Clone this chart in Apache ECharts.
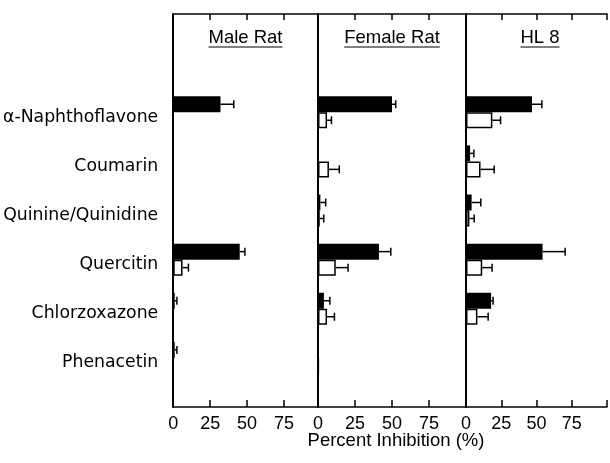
<!DOCTYPE html>
<html><head><meta charset="utf-8">
<script src="https://cdn.jsdelivr.net/npm/echarts@6/dist/echarts.min.js"></script>
<style>html,body{margin:0;padding:0;background:#fff}#c{width:610px;height:463px}</style>
</head><body><div id="c"></div>
<script>
const categories = ["α-Naphthoflavone","Coumarin","Quinine/Quinidine","Quercitin","Chlorzoxazone","Phenacetin"];
const panelTitles = ["Male Rat","Female Rat","HL 8"];
const xTicks = [0,25,50,75];
const xAxisTitle = "Percent Inhibition (%)";
// filled (black) and open (white) bars with their error values
const maleBlack      = [32, 0, 0, 45, 1, 1];
const maleBlackErr   = [9, 0, 0, 3.5, 1.5, 1.5];
const maleWhite      = [0, 0, 0, 6.3, 0, 0];
const maleWhiteErr   = [0, 0, 0, 4, 0, 0];
const femaleBlack    = [50, 0, 1.6, 41.2, 4, 0];
const femaleBlackErr = [2.5, 0, 3.6, 8, 4, 0];
const femaleWhite    = [6.1, 7.4, 1.2, 12, 6.1, 0.5];
const femaleWhiteErr = [3, 7, 2.7, 8.3, 5, 0];
const hl8Black       = [46.8, 2.9, 4, 54.3, 17.8, 0];
const hl8BlackErr    = [7, 2.7, 6.5, 16, 1.4, 0];
const hl8White       = [18.7, 10.3, 2.4, 11.5, 8.1, 0];
const hl8WhiteErr    = [5.8, 9.7, 3.4, 7, 7.6, 0];

const FONT = "'Liberation Sans', Arial, sans-serif";
const LFONT = "'DejaVu Sans', sans-serif";
const panels = [
  {black: maleBlack, blackErr: maleBlackErr, white: maleWhite, whiteErr: maleWhiteErr},
  {black: femaleBlack, blackErr: femaleBlackErr, white: femaleWhite, whiteErr: femaleWhiteErr},
  {black: hl8Black, blackErr: hl8BlackErr, white: hl8White, whiteErr: hl8WhiteErr}
];
const yCats = ["", " ", ...categories, "  "];
const gridDefs = [
  {left: 173, width: 145, max: 98},
  {left: 318, width: 148, max: 100},
  {left: 466, width: 148, max: 100}
];
const TOP = 14, HEIGHT = 393, BAR = 16;

const grid = [], xAxis = [], yAxis = [], series = [];
gridDefs.forEach((g, i) => {
  grid.push({left: g.left, top: TOP, width: g.width, height: HEIGHT, containLabel: false});
  xAxis.push({
    gridIndex: i, type: 'value', min: 0, max: g.max, interval: 25, position: 'bottom',
    axisLine: {show: true, onZero: false, lineStyle: {color: '#000', width: 1.5}},
    axisTick: {show: true, inside: true, length: 7, lineStyle: {color: '#000', width: 1.5}},
    axisLabel: {show: true, fontSize: 18, color: '#000', fontFamily: FONT, margin: 8,
      formatter: v => xTicks.includes(v) ? String(v) : ''},
    splitLine: {show: false}
  });
  xAxis.push({
    gridIndex: i, type: 'value', min: 0, max: g.max, interval: 25, position: 'top',
    axisLine: {show: true, onZero: false, lineStyle: {color: '#000', width: 1.5}},
    axisTick: {show: true, inside: true, length: 6, lineStyle: {color: '#000', width: 1.5}},
    axisLabel: {show: false}, splitLine: {show: false}
  });
  yAxis.push({
    gridIndex: i, type: 'category', data: yCats, inverse: true, boundaryGap: false,
    axisLine: {show: true, onZero: false, lineStyle: {color: '#000', width: 2}},
    axisTick: {show: false},
    axisLabel: {show: i === 0, fontSize: 17.3, color: '#000', fontFamily: LFONT, margin: 15,
      verticalAlign: 'top', lineHeight: 10, interval: 0},
    splitLine: {show: false}
  });
  const p = panels[i];
  const mk = arr => arr.map((v, k) => [v, categories[k]]);
  series.push({
    type: 'bar', xAxisIndex: 2 * i, yAxisIndex: i, data: mk(p.black), barWidth: BAR, barGap: '0%',
    itemStyle: {color: '#000', borderColor: '#000', borderWidth: 0}, silent: true, animation: false
  });
  series.push({
    type: 'bar', xAxisIndex: 2 * i, yAxisIndex: i, data: mk(p.white), barWidth: BAR, barGap: '0%',
    itemStyle: {color: '#fff', borderColor: '#000', borderWidth: 1.5}, silent: true, animation: false
  });
  const errData = [];
  categories.forEach((c, k) => {
    errData.push([p.black[k], c, p.blackErr[k], -1]);
    errData.push([p.white[k], c, p.whiteErr[k], 1]);
  });
  series.push({
    type: 'custom', xAxisIndex: 2 * i, yAxisIndex: i, data: errData, silent: true, animation: false,
    encode: {x: 0, y: 1}, z: 5,
    renderItem: (params, api) => {
      const v = api.value(0), cat = api.value(1), e = api.value(2), grp = api.value(3);
      if (!e) return null;
      const a = api.coord([v, cat]);
      const b = api.coord([v + e, cat]);
      const y = a[1] + grp * BAR / 2;
      const st = {stroke: '#000', lineWidth: 1.5};
      return {type: 'group', children: [
        {type: 'line', shape: {x1: a[0], y1: y, x2: b[0], y2: y}, style: st},
        {type: 'line', shape: {x1: b[0], y1: y - 4, x2: b[0], y2: y + 4}, style: st}
      ]};
    }
  });
});

// measure title widths for underline
const cv = document.createElement('canvas').getContext('2d');
cv.font = "18.5px 'Liberation Sans', Arial, sans-serif";
const graphic = [];
gridDefs.forEach((g, i) => {
  const cx = g.left + g.width / 2;
  const w = cv.measureText(panelTitles[i]).width;
  graphic.push({type: 'text', x: cx, y: 38, style: {text: panelTitles[i], font: "18.5px " + FONT,
    fill: '#000', textAlign: 'center', textVerticalAlign: 'middle'}});
  graphic.push({type: 'line', shape: {x1: cx - w / 2, y1: 47, x2: cx + w / 2, y2: 47},
    style: {stroke: '#000', lineWidth: 1.2}});
});
graphic.push({type: 'text', x: 396, y: 441, style: {text: xAxisTitle, font: "18.5px " + FONT,
  fill: '#000', textAlign: 'center', textVerticalAlign: 'middle'}});

const chart = echarts.init(document.getElementById('c'), null, {renderer: 'canvas'});
chart.setOption({animation: false, backgroundColor: '#fff', grid, xAxis, yAxis, series, graphic});
</script></body></html>
